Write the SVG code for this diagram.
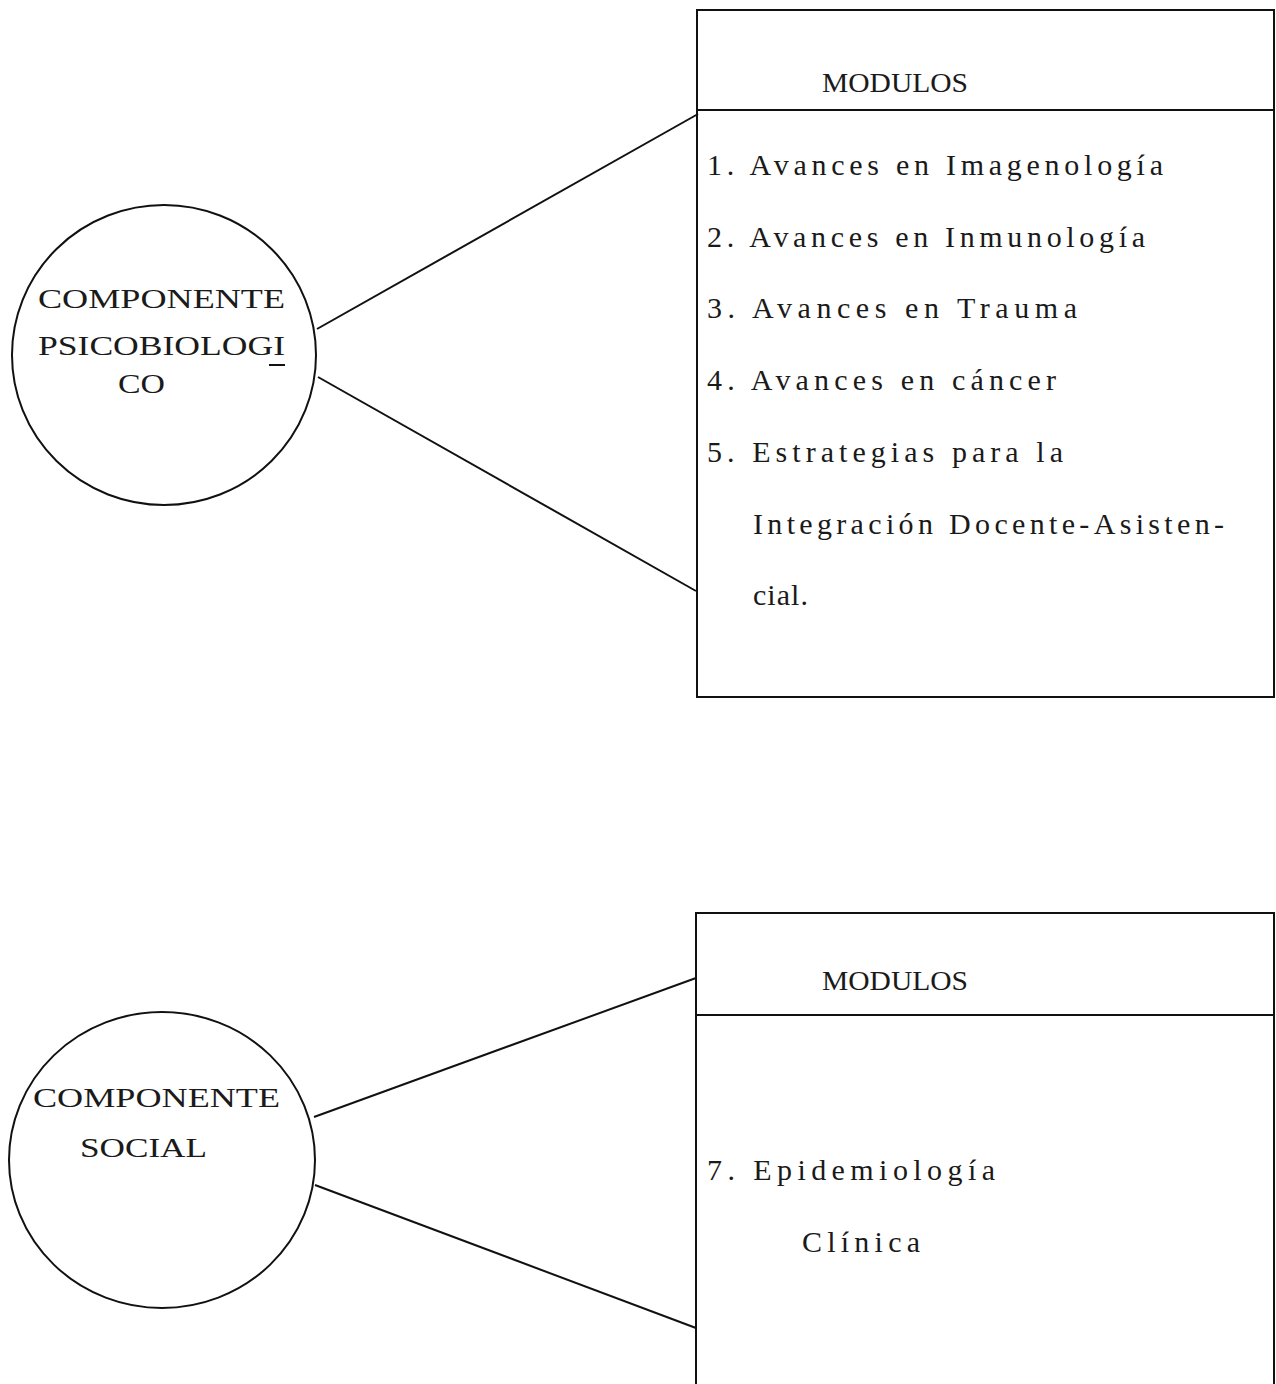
<svg xmlns="http://www.w3.org/2000/svg" width="1276" height="1384" viewBox="0 0 1276 1384">
<style>
.shape{fill:none;stroke:#111;stroke-width:2}
.t{font-family:"Liberation Serif","Times New Roman",serif;font-size:27px;fill:#1a1a1a}
.i{font-family:"Liberation Serif","Times New Roman",serif;font-size:30px;fill:#1a1a1a}
</style>
<rect width="1276" height="1384" fill="#fff"/>
<g id="connectors" class="shape">
<line x1="317" y1="329" x2="698" y2="114"/>
<line x1="318" y1="377" x2="696" y2="591"/>
<line x1="314" y1="1117" x2="696" y2="978"/>
<line x1="315" y1="1185" x2="696" y2="1328"/>
</g>
<g id="comp-psico">
<ellipse class="shape" cx="164" cy="355" rx="152" ry="150"/>
<text class="t" x="38" y="308" textLength="247" lengthAdjust="spacingAndGlyphs">COMPONENTE</text>
<text class="t" x="38" y="355" textLength="247" lengthAdjust="spacingAndGlyphs">PSICOBIOLOGI</text>
<line x1="269" y1="365" x2="285" y2="365" stroke="#111" stroke-width="2"/>
<text class="t" x="118" y="393" textLength="47" lengthAdjust="spacingAndGlyphs">CO</text>
</g>
<g id="modulos-1">
<rect class="shape" x="697" y="10" width="577" height="687"/>
<line class="shape" x1="697" y1="110" x2="1274" y2="110"/>
<text class="t" x="822" y="92" textLength="146" lengthAdjust="spacingAndGlyphs">MODULOS</text>
<text class="i" x="707" y="175" textLength="456" lengthAdjust="spacing">1. Avances en Imagenología</text>
<text class="i" x="707" y="247" textLength="438" lengthAdjust="spacing">2. Avances en Inmunología</text>
<text class="i" x="707" y="318" textLength="370" lengthAdjust="spacing">3. Avances en Trauma</text>
<text class="i" x="707" y="390" textLength="349" lengthAdjust="spacing">4. Avances en cáncer</text>
<text class="i" x="707" y="462" textLength="356" lengthAdjust="spacing">5. Estrategias para la</text>
<text class="i" x="753" y="534" textLength="471" lengthAdjust="spacing">Integración Docente-Asisten-</text>
<text class="i" x="753" y="605" textLength="55" lengthAdjust="spacing">cial.</text>
</g>
<g id="comp-social">
<ellipse class="shape" cx="162" cy="1160" rx="153" ry="148"/>
<text class="t" x="33" y="1107" textLength="247" lengthAdjust="spacingAndGlyphs">COMPONENTE</text>
<text class="t" x="80" y="1157" textLength="127" lengthAdjust="spacingAndGlyphs">SOCIAL</text>
</g>
<g id="modulos-2">
<path class="shape" d="M696 1390 V913 H1274 V1390"/>
<line class="shape" x1="696" y1="1015" x2="1274" y2="1015"/>
<text class="t" x="822" y="990" textLength="146" lengthAdjust="spacingAndGlyphs">MODULOS</text>
<text class="i" x="707" y="1180" textLength="288" lengthAdjust="spacing">7.  Epidemiología</text>
<text class="i" x="802" y="1252" textLength="118" lengthAdjust="spacing">Clínica</text>
</g>
</svg>
